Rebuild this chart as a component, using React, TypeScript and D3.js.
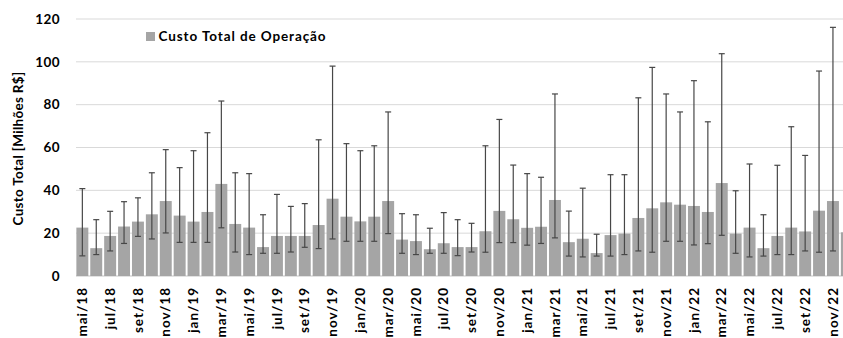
import React from "react";
import * as d3 from "d3";

const months = [
  "mai/18","jun/18","jul/18","ago/18","set/18","out/18","nov/18","dez/18",
  "jan/19","fev/19","mar/19","abr/19","mai/19","jun/19","jul/19","ago/19","set/19","out/19","nov/19","dez/19",
  "jan/20","fev/20","mar/20","abr/20","mai/20","jun/20","jul/20","ago/20","set/20","out/20","nov/20","dez/20",
  "jan/21","fev/21","mar/21","abr/21","mai/21","jun/21","jul/21","ago/21","set/21","out/21","nov/21","dez/21",
  "jan/22","fev/22","mar/22","abr/22","mai/22","jun/22","jul/22","ago/22","set/22","out/22","nov/22","dez/22",
];

const meanCost = [
  22.6, 13.0, 18.7, 23.1, 25.4, 28.8, 35.0, 28.2,
  25.4, 29.9, 43.0, 24.3, 22.6, 13.5, 18.7, 18.7, 18.7, 23.8, 36.1, 27.7,
  25.5, 27.7, 35.0, 17.0, 16.3, 12.5, 15.3, 13.5, 13.5, 20.9, 30.4, 26.5,
  22.5, 23.0, 35.5, 15.8, 17.4, 10.7, 19.1, 19.8, 27.1, 31.6, 34.4, 33.3,
  32.7, 29.9, 43.4, 19.8, 22.6, 13.0, 18.7, 22.6, 20.8, 30.5, 35.0, 20.4,
];

const minCost: (number | null)[] = [
  9.4, 10.0, 11.7, 15.2, 18.5, 17.3, 20.1, 15.7,
  15.7, 15.7, 22.5, 11.2, 10.0, 10.6, 10.6, 11.2, 13.4, 12.8, 17.3, 16.2,
  16.2, 16.2, 19.8, 10.6, 10.0, 10.6, 10.6, 9.5, 11.2, 11.1, 15.6, 15.6,
  14.4, 15.2, 17.8, 9.3, 8.9, 9.3, 9.3, 10.0, 11.7, 11.1, 16.2, 16.2,
  14.5, 15.1, 19.0, 10.6, 8.9, 9.3, 10.0, 10.0, 11.7, 11.1, 11.7, null,
];

const maxCost: (number | null)[] = [
  40.8, 26.3, 30.2, 34.7, 36.5, 48.2, 59.0, 50.6,
  58.5, 66.9, 81.7, 48.2, 47.8, 28.6, 38.1, 32.5, 33.8, 63.6, 98.0, 61.8,
  58.5, 60.8, 76.6, 29.1, 28.6, 22.3, 29.6, 26.3, 24.6, 60.8, 73.1, 51.8,
  47.8, 46.1, 85.0, 30.3, 41.0, 19.5, 47.3, 47.3, 83.2, 97.4, 85.0, 76.6,
  91.2, 72.0, 103.8, 39.8, 52.3, 28.6, 51.7, 69.7, 56.3, 95.7, 116.1, null,
];

const yTicks = [0, 20, 40, 60, 80, 100, 120];
const seriesName = "Custo Total de Operação";
const yTitle = "Custo Total [Milhões R$]";

const W = 843;
const H = 338;
const FONT = "Lato, 'Open Sans', sans-serif";

export default function App() {
  const y = d3.scaleLinear().domain([0, 120]).range([276, 19]);
  const x = d3
    .scaleBand<string>()
    .domain(months)
    .range([75.4, 75.4 + 13.9 * months.length])
    .paddingInner(0.14)
    .paddingOuter(0.07);
  const bw = x.bandwidth();
  const capHalf = 3;

  return (
    <svg
      width={W}
      height={H}
      style={{ position: "absolute", left: 0, top: 0, background: "#fff" }}
      fontFamily={FONT}
    >
      {yTicks.map((t) => (
        <g key={t}>
          <line x1={76} x2={W} y1={y(t)} y2={y(t)} stroke="#d9d9d9" strokeWidth={t === 0 ? 1.5 : 1} />
          <text x={60} y={y(t)} dy="0.35em" textAnchor="end" fontSize={13.5} fontWeight="bold" letterSpacing={0.4} fill="#000">
            {t}
          </text>
        </g>
      ))}
      <text
        transform={`translate(23,${(y(0) + y(120)) / 2 + 1}) rotate(-90)`}
        textAnchor="middle"
        fontSize={13.5}
        fontWeight="bold"
        letterSpacing={0.3}
        fill="#000"
      >
        {yTitle}
      </text>

      {months.map((m, i) => (
        <rect
          key={m}
          x={x(m)!}
          y={y(meanCost[i])}
          width={bw}
          height={y(0) - y(meanCost[i])}
          fill="#a5a5a5"
        />
      ))}

      {months.map((m, i) => {
        const lo = minCost[i];
        const hi = maxCost[i];
        if (lo == null || hi == null) return null;
        const cx = x(m)! + bw / 2;
        return (
          <g key={m} stroke="#474747" strokeWidth={1.2}>
            <line x1={cx} x2={cx} y1={y(hi)} y2={y(lo)} />
            <line x1={cx - capHalf} x2={cx + capHalf} y1={y(hi)} y2={y(hi)} />
            <line x1={cx - capHalf} x2={cx + capHalf} y1={y(lo)} y2={y(lo)} />
          </g>
        );
      })}

      {months.map((m, i) =>
        i % 2 === 0 ? (
          <text
            key={m}
            transform={`translate(${x(m)! + bw / 2},287) rotate(-90)`}
            textAnchor="end"
            dy="0.35em"
            fontSize={13.5}
            fontWeight="bold"
            letterSpacing={1}
            fill="#000"
          >
            {m}
          </text>
        ) : null
      )}

      <rect x={146} y={32} width={9} height={9} fill="#a5a5a5" />
      <text x={158.5} y={41} fontSize={13.5} fontWeight="bold" letterSpacing={0.9} fill="#000">
        {seriesName}
      </text>
    </svg>
  );
}
